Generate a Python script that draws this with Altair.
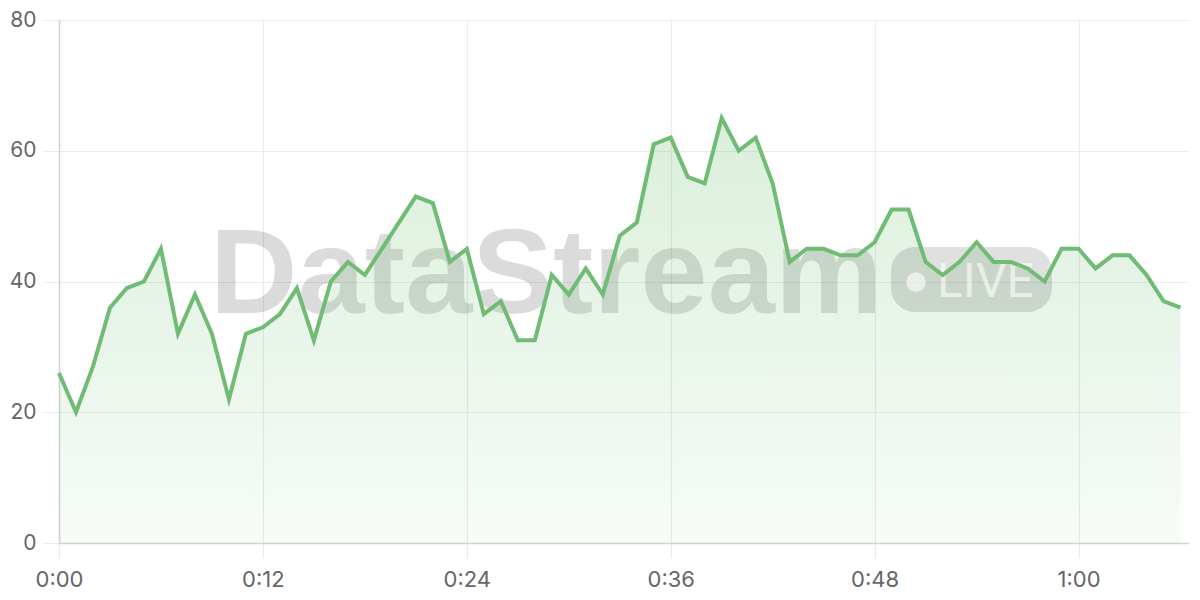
import altair as alt
import pandas as pd

minutes = list(range(67))
values = [26, 20, 27, 36, 39, 40, 45, 32, 38, 32,
          22, 32, 33, 35, 39, 31, 40, 43, 41, 45,
          49, 53, 52, 43, 45, 35, 37, 31, 31, 41,
          38, 42, 38, 47, 49, 61, 62, 56, 55, 65,
          60, 62, 55, 43, 45, 45, 44, 44, 46, 51,
          51, 43, 41, 43, 46, 43, 43, 42, 40, 45,
          45, 42, 44, 44, 41, 37, 36]
x_ticks = [0, 12, 24, 36, 48, 60]
y_ticks = [0, 20, 40, 60, 80]
watermark_text = "DataStream"
badge_text = "LIVE"

df = pd.DataFrame({"m": minutes, "v": values})
one = pd.DataFrame({"k": [0]})

LINE = "#70bc75"
GRID = "#ebebeb"
AXIS = "#d2d2d2"
LABEL = "#666666"
FONT = "Inter"

x_enc = alt.X("m:Q", scale=alt.Scale(domain=[0, 66.5], nice=False, zero=False),
              axis=alt.Axis(values=x_ticks, title=None,
                            labelExpr="floor(datum.value/60) + ':' + (datum.value % 60 < 10 ? '0' : '') + (datum.value % 60)",
                            grid=True, gridColor=GRID, gridWidth=1.2,
                            ticks=True, tickColor=GRID, tickSize=15, tickWidth=1.2,
                            domainColor=AXIS, domainWidth=1.5,
                            labelFont=FONT, labelFontSize=22, labelColor=LABEL,
                            labelPadding=11, labelFlush=False))
y_enc = alt.Y("v:Q", scale=alt.Scale(domain=[0, 80], nice=False),
              axis=alt.Axis(values=y_ticks, title=None,
                            grid=True, gridColor=GRID, gridWidth=1.2,
                            ticks=True, tickColor=GRID, tickSize=16, tickWidth=1.2,
                            domainColor=AXIS, domainWidth=1.5,
                            labelFont=FONT, labelFontSize=21, labelColor=LABEL,
                            labelPadding=7))

wm = alt.Chart(one).mark_text(
    text=watermark_text, font="Liberation Sans", fontWeight="bold", fontSize=121,
    align="left", baseline="alphabetic", fill="#000000", fillOpacity=0.14
).encode(x=alt.value(151), y=alt.value(293))

badge = alt.Chart(one).mark_rect(
    cornerRadius=24, fill="#000000", fillOpacity=0.12
).encode(x=alt.value(832), x2=alt.value(993), y=alt.value(227), y2=alt.value(292))

dot = alt.Chart(one).mark_circle(
    size=380, fill="#ffffff", fillOpacity=0.6, opacity=1
).encode(x=alt.value(857), y=alt.value(262))

live = alt.Chart(one).mark_text(
    text=badge_text, font="Roboto", fontSize=48, align="left", baseline="alphabetic",
    fill="#ffffff", fillOpacity=0.6
).encode(x=alt.value(878), y=alt.value(277))

area = alt.Chart(df).mark_area(
    color=alt.Gradient(
        gradient="linear",
        stops=[alt.GradientStop(color="rgba(102,187,106,0.24)", offset=0),
               alt.GradientStop(color="rgba(102,187,106,0.05)", offset=1)],
        x1=1, x2=1, y1=0, y2=1),
    interpolate="linear"
).encode(x=x_enc, y=y_enc)

line = alt.Chart(df).mark_line(color=LINE, strokeWidth=4, strokeJoin="miter").encode(
    x=alt.X("m:Q"), y=alt.Y("v:Q"))

chart = alt.layer(wm, area, badge, dot, live, line).properties(
    width=1130, height=523,
    autosize=alt.AutoSizeParams(type="none"),
    padding={"left": 51, "top": 12, "right": 0, "bottom": 60},
    background="#ffffff"
).configure_view(stroke=None)

chart.save("out.html", embed_options={"renderer": "svg", "actions": False})
